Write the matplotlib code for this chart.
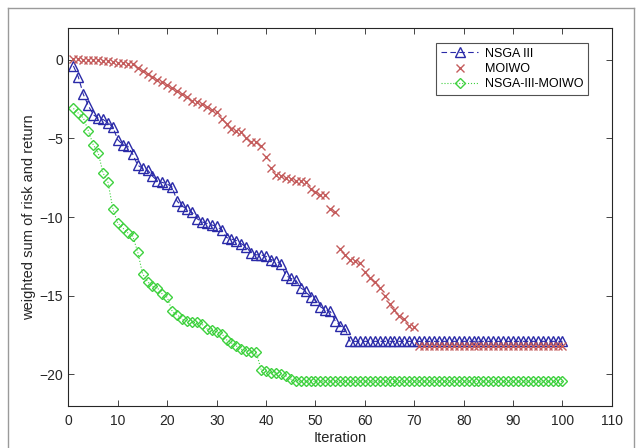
import matplotlib
matplotlib.use("Agg")
import matplotlib.pyplot as plt
from matplotlib.lines import Line2D
import numpy as np

plt.rcParams['font.family'] = ['Liberation Sans', 'DejaVu Sans']

iterations = list(range(1, 101))

nsga3 = [-0.4, -1.1, -2.2, -2.9, -3.5, -3.7, -3.8, -4.0, -4.3, -5.1,
         -5.4, -5.5, -6.0, -6.7, -6.9, -7.0, -7.4, -7.7, -7.8, -7.9,
         -8.1, -9.0, -9.3, -9.5, -9.7, -10.1, -10.3, -10.4, -10.5, -10.6,
         -10.8, -11.3, -11.4, -11.5, -11.7, -11.9, -12.3, -12.4, -12.4, -12.5,
         -12.7, -12.8, -13.0, -13.7, -13.9, -14.0, -14.5, -14.7, -15.1, -15.3,
         -15.7, -15.9, -16.0, -16.6, -16.9, -17.1] + [-17.9] * 44

moiwo = [0.05, 0.05, 0.0, 0.0, -0.05, -0.05, -0.1, -0.1, -0.15, -0.2,
         -0.2, -0.25, -0.3, -0.5, -0.7, -0.9, -1.1, -1.3, -1.4, -1.6,
         -1.8, -2.0, -2.2, -2.4, -2.6, -2.7, -2.8, -3.0, -3.2, -3.3,
         -3.8, -4.1, -4.4, -4.5, -4.6, -5.0, -5.2, -5.2, -5.5, -6.2,
         -6.9, -7.3, -7.4, -7.5, -7.6, -7.7, -7.7, -7.8, -8.2, -8.4,
         -8.6, -8.6, -9.5, -9.7, -12.0, -12.4, -12.7, -12.8, -12.9, -13.5,
         -13.9, -14.1, -14.5, -15.0, -15.5, -15.9, -16.3, -16.5, -16.9, -17.0] + [-18.2] * 30

hybrid = [-3.1, -3.4, -3.7, -4.5, -5.4, -5.9, -7.2, -7.8, -9.5, -10.4,
          -10.7, -11.0, -11.2, -12.2, -13.6, -14.1, -14.4, -14.5, -14.9, -15.1,
          -16.0, -16.2, -16.5, -16.6, -16.7, -16.7, -16.8, -17.1, -17.2, -17.3,
          -17.4, -17.8, -18.0, -18.2, -18.4, -18.5, -18.6, -18.6, -19.7, -19.8,
          -19.9, -19.9, -20.0, -20.1, -20.3] + [-20.45] * 55

labels = ["NSGA III", "MOIWO", "NSGA-III-MOIWO"]
xticks = list(range(0, 111, 10))
yticks = [-20, -15, -10, -5, 0]

blue = '#2a2aa8'
red = '#c45c5c'
green = '#3fd13f'

fig = plt.figure(figsize=(6.4, 4.48), dpi=100)
ax = fig.add_axes([0.107, 0.094, 0.849, 0.843])

ax.plot(iterations, nsga3, linestyle=(0, (5, 3)), color=blue, linewidth=0.8,
        marker='^', markersize=6.5, markerfacecolor='none', markeredgecolor=blue,
        markeredgewidth=1.0, label=labels[0])
ax.plot(iterations, moiwo, linestyle='none', color=red,
        marker='x', markersize=6, markeredgewidth=1.0, label=labels[1])
ax.plot(iterations, hybrid, linestyle=':', color=green, linewidth=0.8,
        marker='D', markersize=5.5, markerfacecolor='none', markeredgecolor=green,
        markeredgewidth=1.0, label=labels[2])

ax.set_xlim(0, 110)
ax.set_ylim(-22, 2)
ax.set_xticks(xticks)
ax.set_yticks(yticks)
ax.tick_params(direction='in', top=True, right=True, length=4, width=0.6,
               labelsize=10, colors='#262626')
ax.tick_params(axis='y', pad=4)
ax.tick_params(axis='x', pad=6)
for s in ax.spines.values():
    s.set_linewidth(0.8)
    s.set_color('#262626')

ax.set_xlabel('Iteration', fontsize=10.5, color='#262626', labelpad=2)
ax.set_ylabel('weighted sum of risk and return', fontsize=10.5, color='#262626', labelpad=2)

leg = ax.legend(loc='upper right', bbox_to_anchor=(0.968, 0.978), fontsize=9,
                frameon=True, fancybox=False, edgecolor='#262626',
                handlelength=3.0, borderpad=0.4, labelspacing=0.25, handletextpad=0.5)
leg.get_frame().set_linewidth(0.8)

# image frame
fig.add_artist(Line2D([8/640, 8/640], [0, 1 - 8/448], transform=fig.transFigure,
                      color='#9a9a9a', linewidth=1.0))
fig.add_artist(Line2D([8/640, 634/640], [1 - 8/448, 1 - 8/448], transform=fig.transFigure,
                      color='#9a9a9a', linewidth=1.0))
fig.add_artist(Line2D([634/640, 634/640], [0, 1 - 8/448], transform=fig.transFigure,
                      color='#9a9a9a', linewidth=1.0))

fig.savefig('out.png', dpi=100)
